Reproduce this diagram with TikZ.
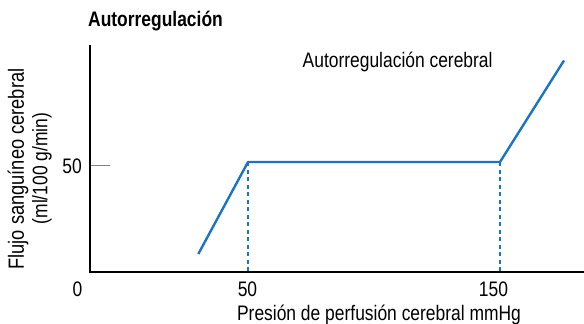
\documentclass[tikz,border=0pt]{standalone}
\usepackage{fontspec}
\setmainfont{Liberation Sans}[FakeStretch=0.83]
\definecolor{curveblue}{HTML}{1A74C6}
\definecolor{tickgray}{HTML}{808080}
\tikzset{
  lbl/.style={inner sep=0pt, font=\fontsize{21}{25}\selectfont},
  axisline/.style={line width=2pt, black},
  curveline/.style={line width=2.4pt, curveblue, line join=round},
  dashline/.style={line width=2pt, curveblue, dash pattern=on 4pt off 3.5pt},
}
\begin{document}
\begin{tikzpicture}[x=1pt,y=-1pt]
\useasboundingbox (0,0) rectangle (584,324);
% axes
\coordinate (ytop) at (90,45);
\coordinate (origin) at (90,272);
\coordinate (xend) at (584,272);
\draw[axisline] (ytop) -- (origin) -- (xend);
% tick at 50
\coordinate (tickA) at (91,165.5);
\coordinate (tickB) at (110,165.5);
\draw[line width=1.3pt, tickgray] (tickA) -- (tickB);
% curve
\coordinate (c0) at (198.3,254);
\coordinate (c1) at (248,162);
\coordinate (c2) at (500,162);
\coordinate (c3) at (564,60.5);
\coordinate (d1) at (248,272);
\coordinate (d2) at (500,272);
\draw[dashline] (c1) -- (d1);
\draw[dashline] (c2) -- (d2);
\draw[curveline] (c0) -- (c1) -- (c2) -- (c3);
% labels
\node[lbl, font=\fontsize{21}{25}\selectfont\bfseries, anchor=base west] (title) at (88,26) {Autorregulación};
\node[lbl, anchor=base west] (curvelabel) at (302.5,67.3) {Autorregulación cerebral};
\node[lbl, anchor=base east] (y50) at (82,173) {50};
\node[lbl, anchor=base] (x0) at (77.5,296.7) {0};
\node[lbl, anchor=base] (x50) at (247.5,296.7) {50};
\node[lbl, anchor=base] (x150) at (493.5,296.7) {150};
\node[lbl, anchor=base] (xlabel) at (379,320.5) {Presión de perfusión cerebral mmHg};
\node[lbl, rotate=90, anchor=center, font=\fontsize{22}{26}\selectfont] (ylabel1) at (18,169) {Flujo sanguíneo cerebral};
\node[lbl, rotate=90, anchor=center] (ylabel2) at (42,168.5) {(ml/100 g/min)};
\end{tikzpicture}
\end{document}
